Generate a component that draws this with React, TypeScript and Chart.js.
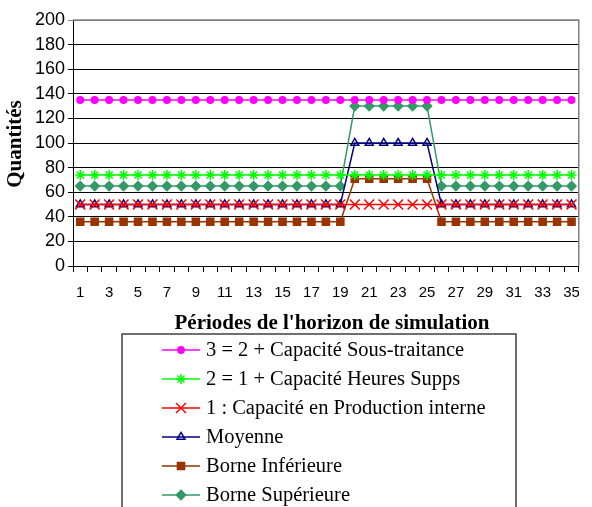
import React, { useEffect, useRef } from 'react';
import { Chart, registerables } from 'chart.js';
import { drawPoint } from 'chart.js/helpers';

Chart.register(...registerables);

const periods = ['1','2','3','4','5','6','7','8','9','10','11','12','13','14','15','16','17','18','19','20','21','22','23','24','25','26','27','28','29','30','31','32','33','34','35'];

const sousTraitance = [135,135,135,135,135,135,135,135,135,135,135,135,135,135,135,135,135,135,135,135,135,135,135,135,135,135,135,135,135,135,135,135,135,135,135];
const heuresSupps = [74,74,74,74,74,74,74,74,74,74,74,74,74,74,74,74,74,74,74,74,74,74,74,74,74,74,74,74,74,74,74,74,74,74,74];
const productionInterne = [50,50,50,50,50,50,50,50,50,50,50,50,50,50,50,50,50,50,50,50,50,50,50,50,50,50,50,50,50,50,50,50,50,50,50];
const moyenne = [50,50,50,50,50,50,50,50,50,50,50,50,50,50,50,50,50,50,50,100,100,100,100,100,100,50,50,50,50,50,50,50,50,50,50];
const borneInferieure = [36,36,36,36,36,36,36,36,36,36,36,36,36,36,36,36,36,36,36,71,71,71,71,71,71,36,36,36,36,36,36,36,36,36,36];
const borneSuperieure = [65,65,65,65,65,65,65,65,65,65,65,65,65,65,65,65,65,65,65,130,130,130,130,130,130,65,65,65,65,65,65,65,65,65,65];

const seriesLabels = [
  '3 = 2 + Capacité Sous-traitance',
  '2 = 1 + Capacité Heures Supps',
  '1 : Capacité en Production interne',
  'Moyenne',
  'Borne Inférieure',
  'Borne Supérieure',
];

const yTitle = 'Quantités';
const xTitle = "Périodes de l'horizon de simulation";

const W = 592;
const H = 507;

const customDraw = {
  id: 'customDraw',
  afterDraw(chart: any) {
    const ctx = chart.ctx;
    const a = chart.chartArea;
    ctx.save();
    // plot border top/right
    ctx.strokeStyle = '#808080';
    ctx.lineWidth = 1.5;
    ctx.beginPath();
    ctx.moveTo(a.left, a.top);
    ctx.lineTo(a.right, a.top);
    ctx.lineTo(a.right, a.bottom);
    ctx.stroke();

    // y title
    ctx.fillStyle = '#000';
    ctx.font = 'bold 21px "Liberation Serif", "Times New Roman", serif';
    ctx.textAlign = 'center';
    ctx.textBaseline = 'middle';
    ctx.save();
    ctx.translate(16, (a.top + a.bottom) / 2 + 1);
    ctx.rotate(-Math.PI / 2);
    ctx.fillText(yTitle, 0, 0);
    ctx.restore();

    // x title
    ctx.fillText(xTitle, 332, 324);

    // legend box
    ctx.strokeStyle = '#404040';
    ctx.lineWidth = 1.5;
    ctx.strokeRect(122, 334, 394, 200);

    ctx.font = '20.5px "Liberation Serif", "Times New Roman", serif';
    ctx.textAlign = 'left';
    const rowY = [350, 379, 408, 437, 466, 495];
    chart.data.datasets.forEach((ds: any, i: number) => {
      const y = rowY[i];
      ctx.strokeStyle = ds.borderColor;
      ctx.lineWidth = 1.5;
      ctx.beginPath();
      ctx.moveTo(162, y);
      ctx.lineTo(200, y);
      ctx.stroke();
      ctx.fillStyle = ds.pointBackgroundColor;
      ctx.strokeStyle = ds.pointBorderColor;
      ctx.lineWidth = ds.pointBorderWidth;
      drawPoint(ctx, {
        pointStyle: ds.pointStyle,
        radius: ds.pointRadius,
        rotation: 0,
        borderWidth: ds.pointBorderWidth,
      } as any, 181, y);
      ctx.fillStyle = '#000';
      ctx.fillText(ds.label, 206, y + 1);
    });
    ctx.restore();
  },
};

function makeDs(label: string, data: number[], color: string, style: string, radius: number, bg: string) {
  return {
    label,
    data,
    borderColor: color,
    backgroundColor: color,
    borderWidth: 1.5,
    pointStyle: style,
    pointRadius: radius,
    pointBackgroundColor: bg,
    pointBorderColor: color,
    pointBorderWidth: 1.5,
    tension: 0,
    fill: false,
  };
}

export default function App() {
  const ref = useRef<HTMLCanvasElement>(null);
  useEffect(() => {
    const canvas = ref.current!;
    const chart = new Chart(canvas, {
      type: 'line',
      data: {
        labels: periods,
        datasets: [
          makeDs(seriesLabels[0], sousTraitance, '#FF00FF', 'circle', 3.2, '#FF00FF'),
          makeDs(seriesLabels[1], heuresSupps, '#00FF00', 'star', 5, '#00FF00'),
          makeDs(seriesLabels[2], productionInterne, '#FF0000', 'crossRot', 7, '#FF0000'),
          makeDs(seriesLabels[3], moyenne, '#000080', 'triangle', 4.6, 'rgba(0,0,0,0)'),
          makeDs(seriesLabels[4], borneInferieure, '#993300', 'rect', 5, '#993300'),
          makeDs(seriesLabels[5], borneSuperieure, '#339966', 'rectRot', 4.6, '#339966'),
        ] as any,
      },
      options: {
        responsive: false,
        animation: false,
        devicePixelRatio: 1,
        layout: { padding: { left: 0, top: 20, right: 4, bottom: 201 } },
        plugins: { legend: { display: false }, tooltip: { enabled: false } },
        scales: {
          x: {
            type: 'category',
            offset: true,
            grid: { offset: true, drawOnChartArea: false, color: '#000', tickLength: 6 },
            border: { color: '#000', width: 1 },
            ticks: {
              autoSkip: false,
              maxRotation: 0,
              minRotation: 0,
              color: '#000',
              padding: 12,
              font: { family: '"Liberation Sans", Arial, sans-serif', size: 15 },
              callback: (_v: any, i: number) => (i % 2 === 0 ? periods[i] : ''),
            },
            afterFit: (s: any) => { s.height = 40; },
          },
          y: {
            min: 0,
            max: 200,
            grid: {
              color: (c: any) => (c.tick && c.tick.value === 200 ? '#808080' : '#000'),
              tickLength: 5,
            },
            border: { color: '#000', width: 1 },
            ticks: {
              stepSize: 20,
              color: '#000',
              padding: 3,
              font: { family: '"Liberation Sans", Arial, sans-serif', size: 18 },
            },
            afterFit: (s: any) => { s.width = 73; },
          },
        },
      } as any,
      plugins: [customDraw],
    });
    return () => chart.destroy();
  }, []);
  return (
    <div style={{ position: 'fixed', left: 0, top: 0, width: W, height: H, background: '#fff' }}>
      <canvas ref={ref} width={W} height={H} style={{ width: W, height: H, display: 'block' }} />
    </div>
  );
}
